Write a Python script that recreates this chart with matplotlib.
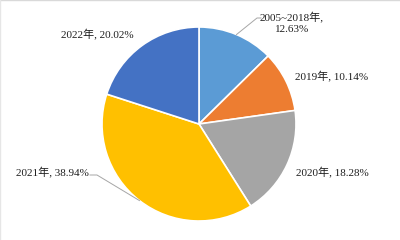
import numpy as np
import matplotlib
matplotlib.use('Agg')
from matplotlib import pyplot as plt
from matplotlib.lines import Line2D

# data
years = ['2005~2018年', '2019年', '2020年', '2021年', '2022年']
shares = [12.63, 10.14, 18.28, 38.94, 20.02]
colors = ['#5B9BD5', '#ED7D31', '#A5A5A5', '#FFC000', '#4472C4']

plt.rcParams['font.family'] = ['Liberation Serif', 'Noto Sans CJK SC']

W, H, R = 400, 240, 97.0
cx, cy = 199, 124          # pie centre, pixels from top-left


def px(x, y):
    return (x - cx) / R, (cy - y) / R


fig = plt.figure(figsize=(4, 2.4), dpi=100)
ax = fig.add_axes([0, 0, 1, 1])
wedges, _ = ax.pie(shares, colors=colors, startangle=90, counterclock=False,
                   radius=1, wedgeprops=dict(edgecolor='white', linewidth=1.2))
ax.set_xlim(-cx / R, (W - cx) / R)
ax.set_ylim(-(H - cy) / R, cy / R)
ax.set_aspect('auto')
ax.axis('off')

labels = ['%s,\n%.2f%%' % (years[0], shares[0])] + \
         ['%s, %.2f%%' % (y, s) for y, s in zip(years[1:], shares[1:])]

# label placement (pixels) and alignment
place = [(292, 23, 'center'), (295, 77, 'left'), (296, 173, 'left'),
         (89, 173, 'right'), (134, 35, 'right')]
txt = '#1F1F1F'
for lab, (x, y, ha) in zip(labels, place):
    tx, ty = px(x, y)
    ax.text(tx, ty, lab, ha=ha, va='center', fontsize=8, color=txt,
            linespacing=1.35, multialignment='center')

# leader lines
def mid_point(w):
    a = np.deg2rad((w.theta1 + w.theta2) / 2)
    return np.cos(a), np.sin(a)

lc = '#A6A6A6'
x0, y0 = mid_point(wedges[0])
x1, y1 = px(257, 18)
x2, y2 = px(261, 18)
ax.plot([x0, x1, x2], [y0, y1, y2], color=lc, lw=0.7)

x0, y0 = mid_point(wedges[3])
x1, y1 = px(97, 175)
x2, y2 = px(90, 175)
ax.plot([x0, x1, x2], [y0, y1, y2], color=lc, lw=0.7)

# faint frame at top / left
fig.add_artist(Line2D([0, 1], [0.998, 0.998], color='#D9D9D9', lw=1))
fig.add_artist(Line2D([0.001, 0.001], [0, 1], color='#E6E6E6', lw=1))

fig.savefig('out.png', dpi=100)
